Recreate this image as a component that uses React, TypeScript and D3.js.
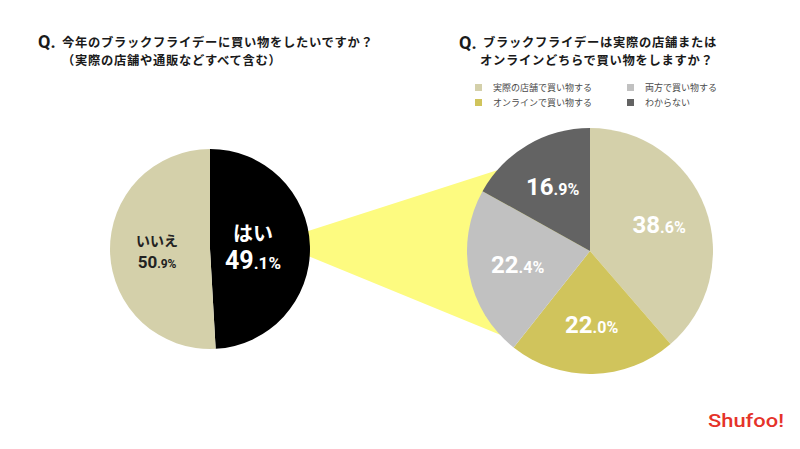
import React from "react";
import * as d3 from "d3";

// Q1: 今年のブラックフライデーに買い物をしたいですか？
const leftCategories = ["はい", "いいえ"];
const leftValues = [49.1, 50.9];
const leftColors = ["#000000", "#d4d0aa"];
const leftTextColors = ["#ffffff", "#222222"];

// Q2: 実際の店舗またはオンライン
const rightCategories = ["実際の店舗で買い物する", "オンラインで買い物する", "両方で買い物する", "わからない"];
const rightValues = [38.6, 22.0, 22.4, 16.9];
const rightColors = ["#d4d0aa", "#d0c45c", "#c1c1c1", "#636363"];

const JP = "'Noto Sans CJK JP', 'Noto Sans', sans-serif";
const NUM = "Roboto, 'DejaVu Sans', sans-serif";

const width = 800;
const height = 449;

const left = { cx: 210, cy: 249, r: 100 };
const right = { cx: 590, cy: 251, r: 123 };

// percent label: big integer part, small decimal part
const Pct = ({ v, big, small }: { v: number; big: number; small: number }) => {
  const [i, d] = v.toFixed(1).split(".");
  return (
    <>
      <tspan fontSize={big}>{i}</tspan>
      <tspan fontSize={small}>.{d}%</tspan>
    </>
  );
};

const App = () => {
  const pie = d3.pie<number>().sort(null).value((d) => d);
  const leftArcs = pie(leftValues);
  const rightArcs = pie(rightValues);

  const leftArc = d3.arc<d3.PieArcDatum<number>>().innerRadius(0).outerRadius(left.r);
  const rightArc = d3.arc<d3.PieArcDatum<number>>().innerRadius(0).outerRadius(right.r);
  const leftLabel = d3.arc<d3.PieArcDatum<number>>().innerRadius(left.r * 0.48).outerRadius(left.r * 0.48);
  const rightLabel = d3.arc<d3.PieArcDatum<number>>().innerRadius(right.r * 0.6).outerRadius(right.r * 0.6);

  // yellow connector between the two pies
  const onRight = (deg: number, k: number) => {
    const a = (deg * Math.PI) / 180;
    return [right.cx + right.r * k * Math.sin(a), right.cy - right.r * k * Math.cos(a)];
  };
  const connector = [
    [left.cx + 64, left.cy - 7],
    onRight(-49, 1.0),
    [right.cx, right.cy],
    onRight(-137, 0.97),
  ];

  // legend: column-major, two rows
  const legendCols = [475, 627];
  const legendRows = [84, 99];

  const titleSize = 12.3;
  const titleSpacing = 0.7;

  return (
    <svg width={width} height={height} style={{ position: "absolute", left: 0, top: 0, background: "#fff" }}>
      {/* titles */}
      <g fontFamily={JP} fontWeight="bold" fill="#1a1a1a">
        <text x={38} y={48} fontFamily={NUM} fontSize={18}>Q.</text>
        <text x={62} y={47} fontSize={titleSize} letterSpacing={titleSpacing}>今年のブラックフライデーに買い物をしたいですか？</text>
        <text x={62} y={65} fontSize={titleSize} letterSpacing={titleSpacing}>（実際の店舗や通販などすべて含む）</text>

        <text x={459} y={49} fontFamily={NUM} fontSize={18}>Q.</text>
        <text x={483} y={47} fontSize={titleSize} letterSpacing={titleSpacing}>ブラックフライデーは実際の店舗または</text>
        <text x={480} y={65} fontSize={titleSize} letterSpacing={titleSpacing}>オンラインどちらで買い物をしますか？</text>
      </g>

      {/* legend */}
      <g fontFamily={JP} fontSize={9} fill="#4a4a4a">
        {rightCategories.map((c, i) => {
          const x = legendCols[Math.floor(i / 2)];
          const y = legendRows[i % 2];
          return (
            <g key={c}>
              <rect x={x} y={y} width={7} height={7} fill={rightColors[i]} />
              <text x={x + 18} y={y + 7}>{c}</text>
            </g>
          );
        })}
      </g>

      <polygon points={connector.map((p) => p.join(",")).join(" ")} fill="#fdfb80" />

      {/* left pie */}
      <g transform={`translate(${left.cx},${left.cy})`}>
        {leftArcs.map((a, i) => (
          <path key={i} d={leftArc(a) || ""} fill={leftColors[i]} />
        ))}
        {leftArcs.map((a, i) => {
          const [cx, y] = leftLabel.centroid(a);
          const x = cx - 5;
          const big = i === 0;
          return (
            <g key={"l" + i} fill={leftTextColors[i]} fontWeight="bold" textAnchor="middle">
              <text x={x} y={y + (big ? -7 : -4)} fontFamily={JP} fontSize={big ? 20 : 14}>
                {leftCategories[i]}
              </text>
              <text x={x} y={y + (big ? 21 : 18)} fontFamily={NUM}>
                <Pct v={leftValues[i]} big={big ? 25 : 17} small={big ? 17 : 12} />
              </text>
            </g>
          );
        })}
      </g>

      {/* right pie */}
      <g transform={`translate(${right.cx},${right.cy})`}>
        {rightArcs.map((a, i) => (
          <path key={i} d={rightArc(a) || ""} fill={rightColors[i]} />
        ))}
        {rightArcs.map((a, i) => {
          const [x, y] = rightLabel.centroid(a);
          return (
            <text key={"r" + i} x={x} y={y + 8} fill="#fff" fontWeight="bold" textAnchor="middle" fontFamily={NUM}>
              <Pct v={rightValues[i]} big={24} small={16} />
            </text>
          );
        })}
      </g>

      {/* logo */}
      <text x={708} y={427} fontFamily={NUM} fontWeight={500} fontSize={19} fill="#e5332a" textLength={76} lengthAdjust="spacingAndGlyphs">
        Shufoo!
      </text>
    </svg>
  );
};

export default App;
